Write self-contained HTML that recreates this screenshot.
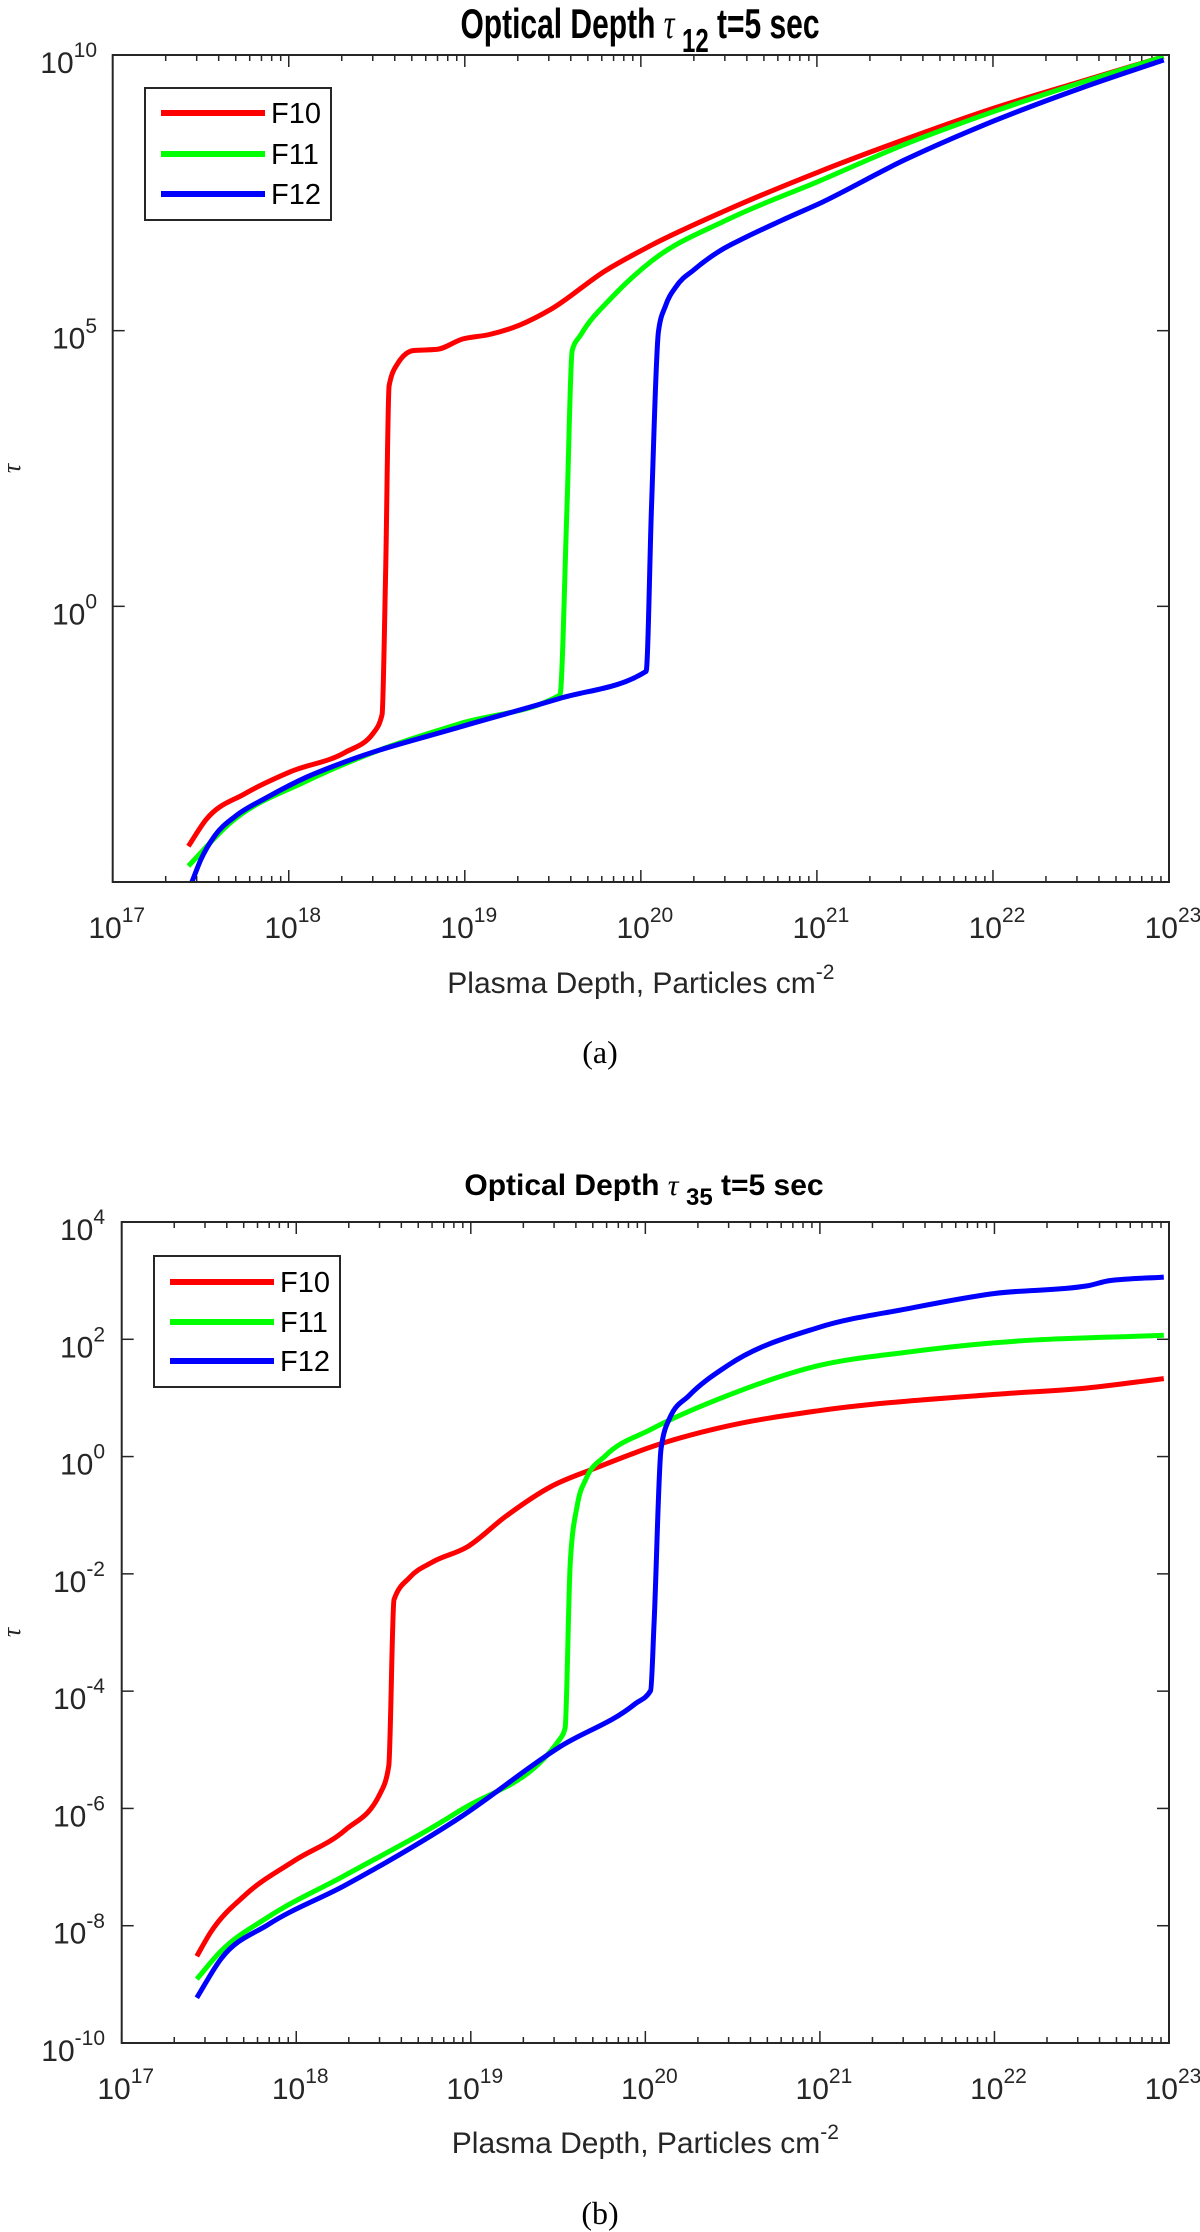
<!DOCTYPE html>
<html><head><meta charset="utf-8"><style>
html,body{margin:0;padding:0;background:#fff}
svg{display:block}
</style></head><body>
<svg id="fig" width="1200" height="2232" viewBox="0 0 1200 2232" xmlns="http://www.w3.org/2000/svg" font-family="Liberation Sans, Arial, sans-serif"></svg>
<script>
// ---- Data (log10 of x = plasma depth, log10 of y = tau) ----
const seriesNames = ["F10","F11","F12"];
const seriesColors = ["#ff0000","#00ff00","#0000ff"];
// Plot (a): tau12
const a_F10_x = [17.43,17.53,17.75,18.01,18.32,18.48,18.53,18.55,18.57,18.62,18.71,18.84,18.99,19.14,19.31,19.49,19.80,20.06,20.49,21.01,21.5,22.01,22.5,22.97];
const a_F10_y = [-4.35,-3.87,-3.40,-3.00,-2.65,-2.30,-1.96,0.59,4.00,4.41,4.64,4.66,4.85,4.93,5.10,5.39,6.09,6.55,7.19,7.88,8.47,9.04,9.52,9.97];
const a_F11_x = [17.43,17.67,18.10,18.53,18.97,19.54,19.58,19.61,19.66,19.84,20.06,20.49,21.01,21.5,22.01,22.5,22.97];
const a_F11_y = [-4.71,-3.92,-3.17,-2.59,-2.13,-1.61,1.75,4.64,4.93,5.62,6.26,7.01,7.71,8.38,8.98,9.5,9.97];
const a_F12_x = [17.45,17.5,17.58,17.7,17.88,18.1,18.32,18.97,19.54,20.03,20.06,20.10,20.14,20.2,20.3,20.45,20.6,20.8,21.01,21.5,22.01,22.5,22.97];
const a_F12_y = [-5.00,-4.6,-4.16,-3.8,-3.46,-3.1,-2.82,-2.19,-1.67,-1.18,1.75,4.99,5.45,5.8,6.1,6.45,6.7,7.0,7.30,8.1,8.81,9.4,9.91];
// Plot (b): tau35
const b_F10_x = [17.43,17.51,17.71,17.99,18.28,18.48,18.53,18.56,18.65,18.78,18.98,19.20,19.46,19.72,20.07,20.47,20.99,22.00,22.53,22.97];
const b_F10_y = [-8.52,-8.11,-7.47,-6.89,-6.37,-5.75,-5.27,-2.44,-2.06,-1.80,-1.54,-1.02,-0.51,-0.19,0.20,0.52,0.78,1.06,1.17,1.33];
const b_F11_x = [17.43,17.57,17.84,18.28,18.93,19.51,19.54,19.57,19.61,19.66,19.77,20.03,20.47,20.99,21.5,22.00,22.97];
const b_F11_y = [-8.91,-8.43,-7.85,-7.14,-6.05,-4.82,-4.63,-1.80,-0.83,-0.38,0.01,0.46,1.04,1.55,1.78,1.94,2.07];
const b_F12_x = [17.43,17.57,17.84,18.28,18.93,19.51,19.94,20.03,20.05,20.09,20.14,20.25,20.47,20.99,21.5,22.00,22.53,22.66,22.97];
const b_F12_y = [-9.23,-8.56,-7.98,-7.31,-6.17,-4.95,-4.22,-3.99,-2.83,0.14,0.66,1.04,1.55,2.20,2.52,2.78,2.91,3.00,3.06];
const xTickExps = [17,18,19,20,21,22,23];
const a_yTickExps = [10,5,0];
const b_yTickExps = [4,2,0,-2,-4,-6,-8,-10];

const NS="http://www.w3.org/2000/svg";
const svg=document.getElementById('fig');
function mk(tag,attrs,parent){const e=document.createElementNS(NS,tag);for(const k in attrs)e.setAttribute(k,attrs[k]);(parent||svg).appendChild(e);return e;}
function powText(parent,x,y,exp,size,anchor){
  const t=mk('text',{x:x,y:y,'font-size':size,fill:'#262626','text-anchor':anchor},parent);
  t.appendChild(document.createTextNode('10'));
  const s=mk('tspan',{dy:-size*0.53,'font-size':size*0.7},t);
  s.textContent=String(exp);
  return t;
}
// Steffen monotone cubic path (no overshoot at sharp corners)
function monoPath(P){
  const n=P.length;if(n<2)return '';
  const h=[],d=[],m=[];
  for(let i=0;i<n-1;i++){h.push(Math.max(P[i+1][0]-P[i][0],1e-6));d.push((P[i+1][1]-P[i][1])/h[i]);}
  m[0]=d[0];m[n-1]=d[n-2];
  for(let i=1;i<n-1;i++){
    if(d[i-1]*d[i]<=0){m[i]=0;continue;}
    const p=(d[i-1]*h[i]+d[i]*h[i-1])/(h[i-1]+h[i]);
    const s=Math.sign(d[i]);
    m[i]=s*Math.min(Math.abs(d[i-1]),Math.abs(d[i]),0.5*Math.abs(p))*2;
    if(Math.abs(m[i])>Math.abs(p))m[i]=p;
  }
  let out='M'+P[0][0].toFixed(1)+','+P[0][1].toFixed(1);
  for(let i=0;i<n-1;i++){const k=h[i]/3;
    out+=' C'+(P[i][0]+k).toFixed(1)+','+(P[i][1]+m[i]*k).toFixed(1)+' '+(P[i+1][0]-k).toFixed(1)+','+(P[i+1][1]-m[i+1]*k).toFixed(1)+' '+P[i+1][0].toFixed(1)+','+P[i+1][1].toFixed(1);}
  return out;
}
function plot(cfg){
  const g=mk('g',{});
  
  
  const {L,R,T,B,xmin,xmax,ymin,ymax}=cfg;
  const X=v=>L+(v-xmin)/(xmax-xmin)*(R-L);
  const Y=v=>B-(v-ymin)/(ymax-ymin)*(B-T);
  for(let d=xmin;d<xmax;d++){for(let m=2;m<=9;m++){const px=X(d+Math.log10(m));
    mk('line',{x1:px,x2:px,y1:B,y2:B-6,stroke:'#262626','stroke-width':1.5},g);
    mk('line',{x1:px,x2:px,y1:T,y2:T+6,stroke:'#262626','stroke-width':1.5},g);}}
  xTickExps.forEach(e=>{const px=X(e);
    mk('line',{x1:px,x2:px,y1:B,y2:B-12,stroke:'#262626','stroke-width':1.5},g);
    mk('line',{x1:px,x2:px,y1:T,y2:T+12,stroke:'#262626','stroke-width':1.5},g);
    const lbl=powText(g,px+4,cfg.xlabY,e,cfg.fs,'middle');
    
    
  });
  cfg.yTicks.forEach(e=>{const py=Y(e);
    mk('line',{x1:L,x2:L+12,y1:py,y2:py,stroke:'#262626','stroke-width':1.5},g);
    mk('line',{x1:R,x2:R-12,y1:py,y2:py,stroke:'#262626','stroke-width':1.5},g);
    const lbl=powText(g,cfg.ylabR,py+18,e,cfg.fs,'end');
    
    
  });
  cfg.series.forEach((s,i)=>{
    const pts=s.x.map((v,j)=>[X(v),Y(s.y[j])]);
    const pl=mk('path',{d:monoPath(pts),fill:'none',stroke:seriesColors[i],'stroke-width':5,'stroke-linejoin':'round'},g);
    
    
  });
  const box=mk('rect',{x:L,y:T,width:R-L,height:B-T,fill:'none',stroke:'#262626','stroke-width':2},g);
  
  
  const lg=mk('g',{},g);
  
  
  const lb=cfg.legend;
  mk('rect',{x:lb.x,y:lb.y,width:lb.w,height:lb.h,fill:'#fff',stroke:'#262626','stroke-width':2},lg);
  seriesNames.forEach((n,i)=>{const ly=lb.rows[i];
    const en=mk('g',{},lg);
    
    
    mk('line',{x1:lb.x+16,x2:lb.x+120,y1:ly,y2:ly,stroke:seriesColors[i],'stroke-width':6},en);
    const t=mk('text',{x:lb.x+126,y:ly+10,'font-size':29,fill:'#000'},en);
    t.textContent=n;
  });
  const tt=mk('text',{transform:`translate(${cfg.titleX},${cfg.titleY}) scale(1,${cfg.tsy})`,'font-size':30,'font-weight':'bold','text-anchor':'middle',fill:'#000'},g);
  
  
  tt.appendChild(document.createTextNode('Optical Depth '));
  const tau=mk('tspan',{'font-family':'Liberation Serif, serif','font-style':'italic','font-weight':'normal'},tt);tau.textContent='τ ';
  const sub=mk('tspan',{dy:10,'font-size':24},tt);sub.textContent=cfg.sub;
  const rest=mk('tspan',{dy:-10},tt);rest.textContent=' t=5 sec';
  const xl=mk('text',{x:(L+R)/2,y:cfg.xtitleY,'font-size':30,'text-anchor':'middle',fill:'#262626'},g);
  
  
  xl.appendChild(document.createTextNode('Plasma Depth, Particles cm'));
  const sp=mk('tspan',{dy:-14,'font-size':21},xl);sp.textContent='-2';
  const yl=mk('text',{transform:`translate(${cfg.ytitleX},${(T+B)/2}) rotate(-90)`,'font-size':26,'font-family':'Liberation Serif, serif','font-style':'italic','text-anchor':'middle',fill:'#262626'},g);
  
  
  yl.textContent='τ';
  const cp=mk('text',{x:600,y:cfg.capY,'font-size':32,'font-family':'Liberation Serif, serif','text-anchor':'middle',fill:'#000'},g);
  
  
  cp.textContent=cfg.cap;
}
plot({name:'chart-a-tau12',L:112.7,R:1169,T:55,B:882,xmin:17,xmax:23,ymin:-5,ymax:10,fs:30,tsy:1.4,
  yTicks:a_yTickExps,xlabY:938,ylabR:97,titleX:640,titleY:38,sub:'12',xtitleY:993,ytitleX:20,capY:1063,cap:'(a)',
  legend:{x:145,y:88,w:186,h:132,rows:[113,154,194]},
  series:[{x:a_F10_x,y:a_F10_y},{x:a_F11_x,y:a_F11_y},{x:a_F12_x,y:a_F12_y}]});
plot({name:'chart-b-tau35',L:121.7,R:1169,T:1222,B:2043,xmin:17,xmax:23,ymin:-10,ymax:4,fs:30,tsy:1,
  yTicks:b_yTickExps,xlabY:2099,ylabR:105,titleX:644,titleY:1195,sub:'35',xtitleY:2153,ytitleX:20,capY:2224,cap:'(b)',
  legend:{x:154,y:1256,w:186,h:131,rows:[1282,1322,1361]},
  series:[{x:b_F10_x,y:b_F10_y},{x:b_F11_x,y:b_F11_y},{x:b_F12_x,y:b_F12_y}]});
</script>
</body></html>
